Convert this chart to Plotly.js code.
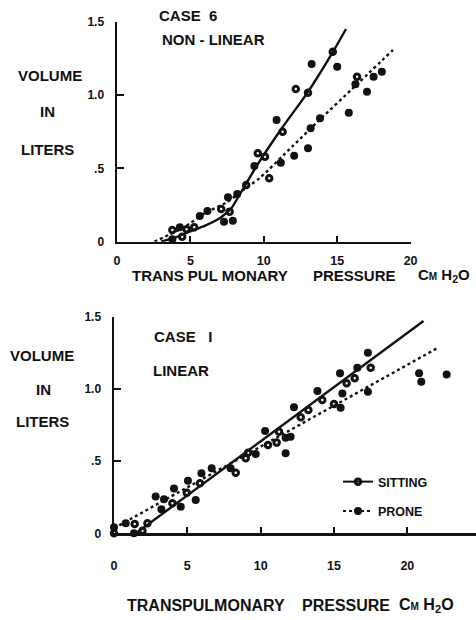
<!DOCTYPE html>
<html>
<head>
<meta charset="utf-8">
<script src="https://cdn.plot.ly/plotly-3.0.1.min.js"></script>
<style>html,body{margin:0;padding:0;background:#fff;}#chart{width:476px;height:620px;}</style>
</head>
<body>
<div id="chart"></div>
<script>
// ---- Data ----
// Top panel: CASE 6, NON-LINEAR
const topSittingX = [3.77, 4.44, 4.74, 5.26, 7.10, 7.67, 8.80, 9.59, 10.08, 10.37, 11.28, 12.18, 13.01, 14.70, 16.35];
const topSittingY = [0.080, 0.034, 0.085, 0.098, 0.223, 0.205, 0.386, 0.603, 0.580, 0.432, 0.750, 1.041, 1.016, 1.295, 1.125];
const topProneX = [3.77, 4.28, 5.64, 6.16, 7.29, 7.56, 7.89, 8.19, 9.36, 10.87, 11.16, 12.07, 13.01, 13.19, 13.26, 13.83, 15.00, 15.79, 16.24, 17.03, 17.48, 18.04];
const topProneY = [0.016, 0.098, 0.175, 0.209, 0.136, 0.303, 0.143, 0.325, 0.516, 0.830, 0.539, 0.586, 0.637, 0.773, 1.211, 0.841, 1.193, 0.880, 1.073, 1.023, 1.125, 1.159];
const topSittingFitX = [3.0, 4.0, 5.0, 6.0, 7.0, 7.8, 8.4, 9.0, 9.6, 11.2, 13.0, 14.8, 15.6];
const topSittingFitY = [0.0, 0.03, 0.07, 0.11, 0.16, 0.23, 0.33, 0.43, 0.53, 0.77, 1.02, 1.31, 1.45];
const topProneFitX = [2.55, 3.6, 4.6, 6.0, 7.5, 8.7, 9.7, 12.0, 14.0, 16.0, 18.8];
const topProneFitY = [0.0, 0.05, 0.10, 0.195, 0.27, 0.36, 0.432, 0.655, 0.85, 1.04, 1.307];

// Bottom panel: CASE 1, LINEAR
const botSittingX = [0, 1.41, 1.94, 2.28, 3.98, 4.96, 5.86, 8.30, 8.98, 9.14, 10.50, 11.09, 11.25, 12.73, 13.25, 14.20, 15.00, 15.86, 16.41, 17.50];
const botSittingY = [0.0, 0.064, 0.018, 0.069, 0.208, 0.281, 0.346, 0.420, 0.519, 0.558, 0.611, 0.628, 0.704, 0.803, 0.854, 0.923, 0.895, 1.039, 1.073, 1.147];
const botProneX = [0, 0.80, 1.36, 2.84, 3.23, 3.41, 4.09, 4.55, 5.04, 5.57, 5.96, 6.66, 7.95, 9.66, 10.30, 11.70, 11.70, 12.04, 12.27, 13.87, 15.41, 15.45, 15.57, 16.59, 17.31, 17.31, 20.80, 20.95, 22.68];
const botProneY = [0.042, 0.069, 0.0, 0.254, 0.166, 0.235, 0.311, 0.184, 0.364, 0.231, 0.415, 0.450, 0.450, 0.549, 0.708, 0.554, 0.662, 0.669, 0.873, 0.985, 1.108, 0.870, 0.969, 1.147, 1.251, 0.981, 1.108, 1.050, 1.100];
const botSittingFitX = [1.5, 21.1];
const botSittingFitY = [0.0, 1.47];
const botProneFitX = [0.0, 22.0];
const botProneFitY = [0.035, 1.28];

const xTickVals = [0, 5, 10, 15, 20];
const xTickText = ['0', '5', '10', '15', '20'];
const yTickVals = [0, 0.5, 1.0, 1.5];
const yTickText = ['0', '.5', '1.0', '1.5'];
const seriesNames = ['SITTING', 'PRONE'];

// ---- Helpers ----
const FONT = 'Liberation Sans, Arial, sans-serif';
const INK = '#111';
// interleave nulls so that 'lines+markers' draws only markers while the legend shows line + marker
function sep(a) { const r = []; a.forEach((v, i) => { if (i) r.push(null); r.push(v); }); return r; }

const sitMarker = {symbol: 'circle-open', size: 5.5, color: INK, line: {width: 3, color: INK}};
const proMarker = {symbol: 'circle', size: 8, color: INK};

const traces = [
  {x: topSittingFitX, y: topSittingFitY, xaxis: 'x', yaxis: 'y', mode: 'lines', line: {color: INK, width: 2.4, shape: 'spline', smoothing: 0.6}, showlegend: false, hoverinfo: 'skip'},
  {x: topProneFitX, y: topProneFitY, xaxis: 'x', yaxis: 'y', mode: 'lines', line: {color: INK, width: 2.4, dash: '3px,3px', shape: 'spline', smoothing: 0.6}, showlegend: false, hoverinfo: 'skip'},
  {x: topSittingX, y: topSittingY, xaxis: 'x', yaxis: 'y', mode: 'markers', marker: sitMarker, showlegend: false, cliponaxis: false},
  {x: topProneX, y: topProneY, xaxis: 'x', yaxis: 'y', mode: 'markers', marker: proMarker, showlegend: false, cliponaxis: false},
  {x: botSittingFitX, y: botSittingFitY, xaxis: 'x2', yaxis: 'y2', mode: 'lines', line: {color: INK, width: 2.4}, showlegend: false, hoverinfo: 'skip'},
  {x: botProneFitX, y: botProneFitY, xaxis: 'x2', yaxis: 'y2', mode: 'lines', line: {color: INK, width: 2.4, dash: '3px,3px'}, showlegend: false, hoverinfo: 'skip'},
  {x: sep(botSittingX), y: sep(botSittingY), xaxis: 'x2', yaxis: 'y2', mode: 'lines+markers', connectgaps: false, name: seriesNames[0], legendgroup: 'a', marker: sitMarker, line: {color: INK, width: 2}, cliponaxis: false},
  {x: sep(botProneX), y: sep(botProneY), xaxis: 'x2', yaxis: 'y2', mode: 'lines+markers', connectgaps: false, name: seriesNames[1], legendgroup: 'b', marker: proMarker, line: {color: INK, width: 2, dash: 'dot'}, cliponaxis: false}
];

const W = 476, H = 620;
const px = v => v / W, py = v => 1 - v / H;

const axX = {
  showgrid: false, zeroline: false, showline: true, linecolor: INK, linewidth: 2.5,
  ticks: 'inside', ticklen: 6, tickwidth: 2, tickcolor: INK,
  tickvals: xTickVals, ticktext: xTickText,
  tickfont: {family: FONT, size: 12.5, color: INK, weight: 'bold'}, fixedrange: true
};
const axY = {
  showgrid: false, zeroline: false, showline: true, linecolor: INK, linewidth: 2.5,
  ticks: 'inside', ticklen: 7, tickwidth: 2, tickcolor: INK,
  tickvals: yTickVals, ticktext: yTickText, range: [0, 1.5],
  tickfont: {family: FONT, size: 12, color: INK, weight: 'bold'}, ticklabelstandoff: 8, fixedrange: true
};

function ann(text, x, y, size, anchor) {
  return {text: text, xref: 'paper', yref: 'paper', x: px(x), y: py(y), xanchor: anchor || 'left', yanchor: 'middle',
          showarrow: false, font: {family: FONT, size: size, color: INK, weight: 'bold'}};
}
const cm = 'C<span style="font-size:10px">M</span> H<sub>2</sub>O';

const layout = {
  width: W, height: H, margin: {l: 0, r: 0, t: 0, b: 0},
  paper_bgcolor: '#fff', plot_bgcolor: 'rgba(0,0,0,0)',
  showlegend: true,
  xaxis: Object.assign({}, axX, {domain: [px(117), px(410.6)], range: [0, 20], anchor: 'y', ticklabelstandoff: 6}),
  yaxis: Object.assign({}, axY, {domain: [py(241.7), py(21.7)], anchor: 'x'}),
  xaxis2: Object.assign({}, axX, {domain: [px(114), 1], range: [0, 24.68], anchor: 'y2', ticklabelstandoff: 19}),
  yaxis2: Object.assign({}, axY, {domain: [py(533.3), py(316.7)], anchor: 'x2'}),
  legend: {x: px(338), y: py(467), xanchor: 'left', yanchor: 'top', bgcolor: 'rgba(0,0,0,0)',
           font: {family: FONT, size: 12.5, color: INK, weight: 'bold'}, traceorder: 'grouped', tracegroupgap: 10, itemwidth: 30},
  annotations: [
    ann('CASE  6', 157, 16, 15),
    ann('NON - LINEAR', 160, 40, 15),
    ann('VOLUME', 50, 75, 15, 'center'),
    ann('IN', 47, 111, 15, 'center'),
    ann('LITERS', 47, 149, 15, 'center'),
    ann('TRANS PUL MONARY', 130, 275, 15),
    ann('PRESSURE', 311, 275, 15),
    ann(cm, 416, 275, 15),
    ann('CASE   I', 152, 336, 15),
    ann('LINEAR', 151, 370, 15),
    ann('VOLUME', 42, 355, 15, 'center'),
    ann('IN', 43, 389, 15, 'center'),
    ann('LITERS', 42, 421, 15, 'center'),
    ann('TRANSPULMONARY', 125, 605, 16),
    ann('PRESSURE', 300, 605, 16),
    ann(cm, 397, 605, 16)
  ]
};

Plotly.newPlot('chart', traces, layout, {staticPlot: true, displayModeBar: false});
</script>
</body>
</html>
